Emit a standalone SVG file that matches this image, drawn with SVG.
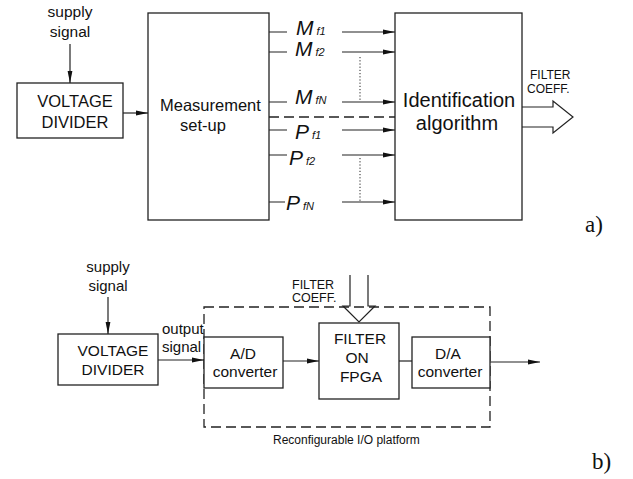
<svg xmlns="http://www.w3.org/2000/svg" width="633" height="479" viewBox="0 0 633 479">
<defs>
<marker id="ah" markerWidth="12" markerHeight="6" refX="12" refY="3" orient="auto" markerUnits="userSpaceOnUse">
<path d="M0,0.6 L12,3 L0,5.4 Z" fill="#111"/>
</marker>
<style>
.box{fill:#fff;stroke:#222;stroke-width:1.3}
.ln{fill:none;stroke:#222;stroke-width:1.2}
.arr{fill:none;stroke:#222;stroke-width:1.2;marker-end:url(#ah)}
.dash{fill:none;stroke:#222;stroke-width:1.3;stroke-dasharray:10 5}
.dot{fill:none;stroke:#222;stroke-width:1;stroke-dasharray:1.2 2}
.t{font-family:"Liberation Sans",Arial,sans-serif;fill:#111}
.m{font-family:"Liberation Sans",Arial,sans-serif;font-style:italic;fill:#111;font-size:21px}
.s{font-size:11px}
.lab{font-family:"Liberation Serif","Times New Roman",serif;fill:#111;font-size:23px}
</style>
</defs>
<rect width="633" height="479" fill="#fff"/>

<!-- ===== a) ===== -->
<g id="a-supply">
<text class="t" x="70" y="17" font-size="15.5" text-anchor="middle">supply</text>
<text class="t" x="70" y="37" font-size="15.5" text-anchor="middle">signal</text>
</g>
<g id="a-divider">
<rect class="box" x="17" y="83" width="106" height="55"/>
<text class="t" x="75" y="107" font-size="16.5" text-anchor="middle">VOLTAGE</text>
<text class="t" x="75" y="128" font-size="16.5" text-anchor="middle">DIVIDER</text>
</g>
<g id="a-measurement">
<rect class="box" x="148" y="13" width="121" height="207"/>
<text class="t" x="160" y="111" font-size="16.5">Measurement</text>
<text class="t" x="180" y="131" font-size="16.5">set-up</text>
</g>
<g id="a-identification">
<rect class="box" x="395" y="13" width="127" height="207"/>
<text class="t" x="459" y="107" font-size="20" text-anchor="middle">Identification</text>
<text class="t" x="457" y="130" font-size="20" text-anchor="middle">algorithm</text>
</g>
<g id="a-signals">
<text class="m" x="296" y="35">M<tspan class="s" dx="3">f1</tspan></text>
<text class="m" x="295" y="56">M<tspan class="s" dx="3">f2</tspan></text>
<text class="m" x="295" y="104">M<tspan class="s" dx="3">fN</tspan></text>
<text class="m" x="295" y="139">P<tspan class="s" dx="3">f1</tspan></text>
<text class="m" x="289" y="165">P<tspan class="s" dx="3">f2</tspan></text>
<text class="m" x="286" y="210">P<tspan class="s" dx="3">fN</tspan></text>
</g>
<g id="a-output">
<text class="t" x="530" y="79" font-size="12">FILTER</text>
<text class="t" x="527" y="93" font-size="12">COEFF.</text>
<path class="ln" d="M522,107 H553 V101 L573,117 L553,133 V127 H522"/>
</g>
<text id="label-a" class="lab" x="585" y="232">a)</text>

<g id="a-connectors">
<path class="arr" d="M70,44 V83"/>
<path class="arr" d="M123,113 H148"/>
<path class="ln" d="M269,32 H287 M269,52 H287 M269,102 H287 M269,130 H287 M269,155 H287 M269,202 H285"/>
<path class="arr" d="M342,32 H395"/>
<path class="arr" d="M342,52 H395"/>
<path class="arr" d="M342,102 H395"/>
<path class="arr" d="M342,130 H395"/>
<path class="arr" d="M342,155 H395"/>
<path class="arr" d="M342,202 H395"/>
<path class="dash" d="M269,117 H395"/>
<path class="dot" d="M360,57 V100 M360,158 V202"/>
</g>

<!-- ===== b) ===== -->
<g id="b-supply">
<text class="t" x="108" y="272" font-size="15" text-anchor="middle">supply</text>
<text class="t" x="108" y="291" font-size="15" text-anchor="middle">signal</text>
</g>
<g id="b-divider">
<rect class="box" x="58" y="334" width="100" height="51"/>
<text class="t" x="113" y="356" font-size="15.5" text-anchor="middle">VOLTAGE</text>
<text class="t" x="113" y="375" font-size="15.5" text-anchor="middle">DIVIDER</text>
</g>
<g id="b-output-label">
<text class="t" x="162" y="334" font-size="15">output</text>
<text class="t" x="162" y="352" font-size="15">signal</text>
</g>
<g id="b-platform">
<rect class="dash" x="204" y="307" width="286" height="120"/>
<text class="t" x="273" y="444" font-size="12">Reconfigurable I/O platform</text>
</g>
<g id="b-ad">
<rect class="box" x="204" y="337" width="79" height="51"/>
<text class="t" x="243" y="359" font-size="15.5" text-anchor="middle">A/D</text>
<text class="t" x="245" y="377" font-size="15.5" text-anchor="middle">converter</text>
</g>
<g id="b-filter">
<rect class="box" x="319" y="323" width="80" height="76"/>
<text class="t" x="360" y="344" font-size="15.5" text-anchor="middle">FILTER</text>
<text class="t" x="357" y="363" font-size="15.5" text-anchor="middle">ON</text>
<text class="t" x="361" y="382" font-size="15.5" text-anchor="middle">FPGA</text>
</g>
<g id="b-da">
<rect class="box" x="412" y="337" width="78" height="51"/>
<text class="t" x="448" y="359" font-size="15.5" text-anchor="middle">D/A</text>
<text class="t" x="450" y="377" font-size="15.5" text-anchor="middle">converter</text>
</g>
<g id="b-coeff">
<text class="t" x="292" y="289" font-size="12.5">FILTER</text>
<text class="t" x="292" y="302" font-size="12.5">COEFF.</text>
<path class="ln" d="M350,275 V306 H343 L359,322 L375,306 H368 V275"/>
</g>
<text id="label-b" class="lab" x="592" y="469">b)</text>

<g id="b-connectors">
<path class="arr" d="M108,297 V334"/>
<path class="arr" d="M158,360 H204"/>
<path class="arr" d="M283,361 H319"/>
<path class="ln" d="M399,361 H412"/>
<path class="arr" d="M490,362 H540"/>
</g>
</svg>
